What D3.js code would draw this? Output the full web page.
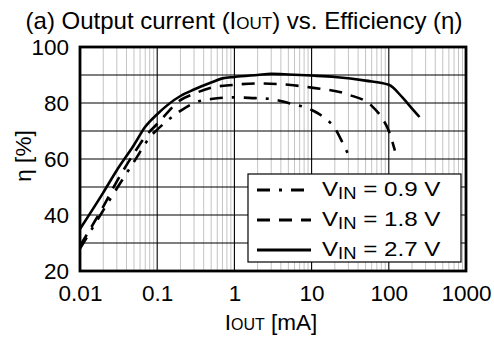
<!DOCTYPE html>
<html>
<head>
<meta charset="utf-8">
<script src="https://cdn.jsdelivr.net/npm/d3@7"></script>
<style>
body { margin: 0; background: #fff; }
text { font-family: "Liberation Sans", Arial, sans-serif; fill: #000; }
</style>
</head>
<body>
<div id="chart"></div>
<script>
var width = 494;
var height = 339;
var margin = {top: 47, right: 28, bottom: 68, left: 80};

// data: [IOUT mA, efficiency %]
var vin09 = [[0.01,28],[0.015,36],[0.025,46],[0.05,59],[0.085,68.6],[0.1,70.5],[0.2,77.2],[0.3,80],[0.5,81.4],[1,82],[2,81.7],[3,81.4],[5,80],[10,77.5],[15,74.5],[20,71],[25,66],[30,61.5]];
var vin18 = [[0.01,29],[0.02,43],[0.03,52],[0.05,62],[0.07,68],[0.1,72.5],[0.2,81],[0.3,83.3],[0.5,85.5],[1,86.5],[2,87],[5,86.5],[10,85.5],[30,83],[60,79],[80,75],[100,70],[120,63]];
var vin27 = [[0.01,35],[0.02,48],[0.03,56],[0.05,65],[0.07,71.5],[0.1,76],[0.2,82.5],[0.3,84.8],[0.5,87.3],[0.7,88.8],[1,89.3],[2,90],[3,90.4],[5,90.2],[10,89.8],[20,89.3],[50,88],[100,86.5],[150,82],[200,78],[250,75]];
var seriesNames = ["0.9", "1.8", "2.7"];
var xTicks = [0.01, 0.1, 1, 10, 100, 1000];
var xTickLabels = ["0.01", "0.1", "1", "10", "100", "1000"];
var yTicks = [20, 40, 60, 80, 100];

var series = [
  {name: seriesNames[0], values: vin09, dash: "13,9,3,9"},
  {name: seriesNames[1], values: vin18, dash: "13,9"},
  {name: seriesNames[2], values: vin27, dash: null}
];

var svg = d3.select("#chart").append("svg")
  .attr("width", width)
  .attr("height", height);

var x = d3.scaleLog()
  .domain([0.01, 1000])
  .range([margin.left, width - margin.right]);

var y = d3.scaleLinear()
  .domain([20, 100])
  .range([height - margin.bottom, margin.top]);

// minor vertical grid
var minor = [];
for (var e = -2; e < 3; e++) {
  for (var m = 2; m <= 9; m++) minor.push(m * Math.pow(10, e));
}
svg.append("g").selectAll("line").data(minor).enter().append("line")
  .attr("x1", function(d) { return x(d); })
  .attr("x2", function(d) { return x(d); })
  .attr("y1", y(20)).attr("y2", y(100))
  .attr("stroke", "#c4c4c4").attr("stroke-width", 1);

// major grid
svg.append("g").selectAll("line").data(xTicks).enter().append("line")
  .attr("x1", function(d) { return x(d); })
  .attr("x2", function(d) { return x(d); })
  .attr("y1", y(20)).attr("y2", y(100))
  .attr("stroke", "#000").attr("stroke-width", 1.1);

svg.append("g").selectAll("line").data(d3.range(30, 100, 10)).enter().append("line")
  .attr("x1", x(0.01)).attr("x2", x(1000))
  .attr("y1", function(d) { return y(d); })
  .attr("y2", function(d) { return y(d); })
  .attr("stroke", "#000").attr("stroke-width", 1.1);

// curves
var line = d3.line()
  .x(function(d) { return x(d[0]); })
  .y(function(d) { return y(d[1]); })
  .curve(d3.curveMonotoneX);

svg.append("g").selectAll("path").data(series).enter().append("path")
  .attr("d", function(d) { return line(d.values); })
  .attr("fill", "none")
  .attr("stroke", "#000")
  .attr("stroke-width", 2.6)
  .attr("stroke-dasharray", function(d) { return d.dash; });

// frame
svg.append("rect")
  .attr("x", x(0.01)).attr("y", y(100))
  .attr("width", x(1000) - x(0.01))
  .attr("height", y(20) - y(100))
  .attr("fill", "none").attr("stroke", "#000").attr("stroke-width", 2.8);

// axes
var xAxis = d3.axisBottom(x).tickValues(xTicks)
  .tickFormat(function(d, i) { return xTickLabels[i]; })
  .tickSize(0).tickPadding(14);
svg.append("g")
  .attr("transform", "translate(0," + y(20) + ")")
  .call(xAxis)
  .call(function(g) { g.select(".domain").remove(); })
  .selectAll("text")
  .attr("font-size", 22.5).attr("font-family", "Liberation Sans, Arial, sans-serif");

var yAxis = d3.axisLeft(y).tickValues(yTicks).tickSize(0).tickPadding(11);
svg.append("g")
  .attr("transform", "translate(" + x(0.01) + ",0)")
  .call(yAxis)
  .call(function(g) { g.select(".domain").remove(); })
  .selectAll("text")
  .attr("font-size", 22.5).attr("font-family", "Liberation Sans, Arial, sans-serif");

// legend
var lg = svg.append("g");
lg.append("rect")
  .attr("x", 248).attr("y", 174).attr("width", 213).attr("height", 88)
  .attr("fill", "#fff").attr("stroke", "#000").attr("stroke-width", 1.2);

var rows = lg.selectAll("g.row").data(series).enter().append("g")
  .attr("class", "row")
  .attr("transform", function(d, i) { return "translate(0," + (190 + i * 30) + ")"; });

rows.append("line")
  .attr("x1", 257).attr("x2", 311).attr("y1", 0).attr("y2", 0)
  .attr("stroke", "#000").attr("stroke-width", 2.8)
  .attr("stroke-dasharray", function(d) { return d.dash; });

var lt = rows.append("text")
  .attr("transform", "translate(322,6) scale(1.15,1)")
  .attr("font-size", 21);
lt.append("tspan").text("V");
lt.append("tspan").attr("font-size", 16).attr("dy", 3).text("IN");
lt.append("tspan").attr("dy", -3).text(function(d) { return " = " + d.name + " V"; });

// title
var title = svg.append("text")
  .attr("x", 244).attr("y", 29)
  .attr("text-anchor", "middle")
  .attr("font-size", 24);
title.append("tspan").text("(a) Output current (I");
title.append("tspan").attr("font-size", 17).text("OUT");
title.append("tspan").text(") vs. Efficiency (\u03b7)");

// x label
var xl = svg.append("text")
  .attr("x", 271).attr("y", 330)
  .attr("text-anchor", "middle")
  .attr("font-size", 22.5);
xl.append("tspan").text("I");
xl.append("tspan").attr("font-size", 16).text("OUT");
xl.append("tspan").text(" [mA]");

// y label
svg.append("text")
  .attr("transform", "translate(31,156) rotate(-90)")
  .attr("text-anchor", "middle")
  .attr("font-size", 22.5)
  .text("\u03b7 [%]");
</script>
</body>
</html>
